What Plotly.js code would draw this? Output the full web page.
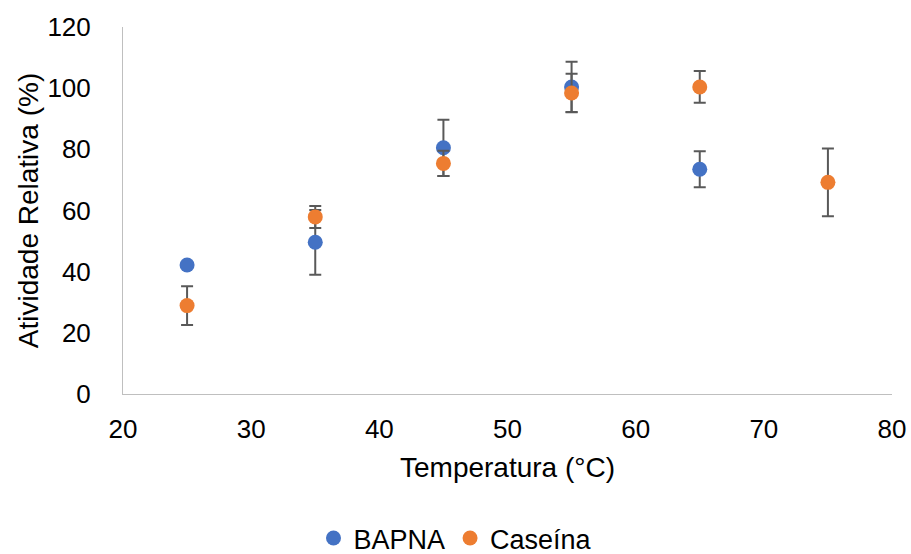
<!DOCTYPE html>
<html>
<head>
<meta charset="utf-8">
<script src="https://cdn.plot.ly/plotly-3.0.1.min.js"></script>
<style>html,body{margin:0;padding:0;background:#fff;}#chart{width:911px;height:554px;}</style>
</head>
<body>
<div id="chart"></div>
<script>
const bapnaTemp = [25, 35, 45, 55, 65];
const bapnaValues = [42.2, 49.6, 80.5, 100.4, 73.5];
const bapnaErr = [0, 10.6, 9.2, 8.2, 5.9];

const caseinaTemp = [25, 35, 45, 55, 65, 75];
const caseinaValues = [28.9, 57.9, 75.4, 98.4, 100.4, 69.2];
const caseinaErr = [6.3, 3.6, 4.1, 6.3, 5.2, 11.1];

const xTicks = [20, 30, 40, 50, 60, 70, 80];
const yTicks = [0, 20, 40, 60, 80, 100, 120];

const errStyle = (arr) => ({type: 'data', array: arr, visible: true, color: '#595959', thickness: 2, width: 6});

const traces = [
  {x: bapnaTemp, y: bapnaValues, name: 'BAPNA', type: 'scatter', mode: 'markers',
   marker: {color: '#4472C4', size: 15}, error_y: errStyle(bapnaErr)},
  {x: caseinaTemp, y: caseinaValues, name: 'Caseína', type: 'scatter', mode: 'markers',
   marker: {color: '#ED7D31', size: 15}, error_y: errStyle(caseinaErr)}
];

const fam = 'Liberation Sans, Arial, sans-serif';
const tickFont = {family: fam, size: 26, color: '#000'};
const titleFont = {family: fam, size: 28, color: '#000'};
const legendFont = {family: fam, size: 27, color: '#000'};

const layout = {
  width: 911, height: 554,
  margin: {l: 123, r: 19, t: 27, b: 160},
  paper_bgcolor: '#fff', plot_bgcolor: '#fff',
  font: tickFont,
  showlegend: true,
  legend: {orientation: 'h', x: 0.5, xanchor: 'center', xref: 'container', y: 0.028, yref: 'container', yanchor: 'middle', font: legendFont, itemwidth: 20, tracegroupgap: 0},
  xaxis: {range: [20, 80], tickvals: xTicks, showgrid: false, zeroline: false, showline: true, linecolor: '#BFBFBF', linewidth: 1,
          ticks: '', ticklabelstandoff: 12, tickfont: tickFont,
          title: {text: 'Temperatura (°C)', font: titleFont, standoff: 14}},
  yaxis: {range: [0, 120], tickvals: yTicks, showgrid: false, zeroline: false, showline: true, linecolor: '#BFBFBF', linewidth: 1,
          ticks: '', ticklabelstandoff: 26, tickfont: tickFont,
          title: {text: 'Atividade Relativa (%)', font: titleFont, standoff: 0}}
};

Plotly.newPlot('chart', traces, layout, {displayModeBar: false, staticPlot: true});
</script>
</body>
</html>
